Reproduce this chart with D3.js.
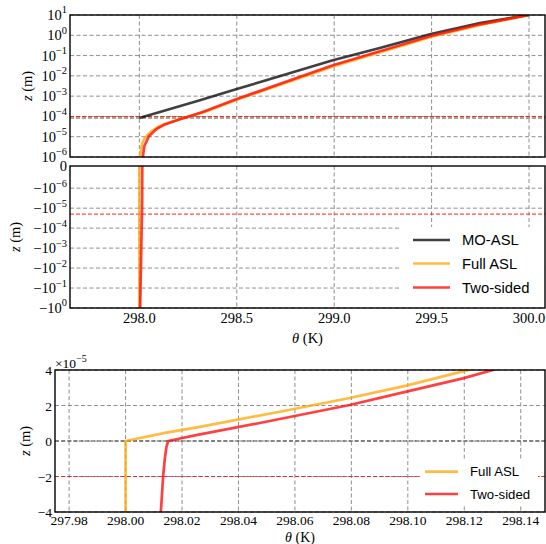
<!DOCTYPE html>
<html>
<head>
<meta charset="utf-8">
<script src="https://cdn.jsdelivr.net/npm/d3@7"></script>
<style>
  body { margin: 0; background: #fff; }
  svg text { fill: #000; }
</style>
</head>
<body>
<svg width="546" height="544" font-family="'Liberation Serif', 'Times New Roman', 'DejaVu Serif', serif"></svg>
<script>
// ---- data (z in m, theta in K) ----
const seriesNames = ["MO-ASL", "Full ASL", "Two-sided"];

const moAslZ     = [-1, 8.4e-5, 6.25e-4, 2.18e-3, 0.0585, 0.237, 1.15, 4.0, 10];
const moAslTheta = [298.0, 298.0, 298.311, 298.496, 298.993, 299.234, 299.496, 299.748, 300.0];

const fullAslZ     = [-1, 0, 1e-6, 4.6e-6, 8.0e-6, 1.65e-5, 2.42e-5, 3.12e-5, 3.92e-5, 7.24e-5, 1.66e-4, 7e-4, 0.032, 0.157, 0.88, 3.3, 10];
const fullAslTheta = [298.0, 298.0, 298.003, 298.014, 298.0263, 298.0546, 298.0794, 298.0995, 298.1195, 298.205, 298.335, 298.508, 299.005, 299.246, 299.505, 299.755, 300.0];

const twoSidedZ     = [-1, -0.1, -1e-3, -4e-5, -2e-5, -1e-5, -3.2e-6, 0, 1e-6, 3.3e-6, 1.03e-5, 2.03e-5, 2.78e-5, 3.53e-5, 4e-5, 7e-5, 1.66e-4, 7e-4, 0.0332, 0.163, 0.93, 3.48, 10];
const twoSidedTheta = [298.004, 298.006, 298.010, 298.0125, 298.0133, 298.0139, 298.0145, 298.0151, 298.018, 298.025, 298.048, 298.0794, 298.0995, 298.1195, 298.1301, 298.205, 298.325, 298.496, 298.993, 299.234, 299.496, 299.748, 300.0];

// dashed reference heights per panel
const refTopZ      = [1e-4, 1e-4, 8.4e-5];
const refTopSeries = ["Full ASL", "Two-sided", "MO-ASL"];
const refMidZ      = [-2e-5];
const refMidSeries = ["Two-sided"];
const refBotZ      = [0, -2e-5];
const refBotSeries = ["MO-ASL", "Two-sided"];

// ticks
const thetaTicks    = [298.0, 298.5, 299.0, 299.5, 300.0];
const topExponents  = [-6, -5, -4, -3, -2, -1, 0, 1];
const midExponents  = [-6, -5, -4, -3, -2, -1, 0];
const botThetaTicks = [297.98, 298.00, 298.02, 298.04, 298.06, 298.08, 298.10, 298.12, 298.14];
const botZTicks     = [-4, -2, 0, 2, 4];   // x 1e-5

const colors = {"MO-ASL": "#000000", "Full ASL": "#ffa500", "Two-sided": "#ff0000"};

const series = [
  {name: "MO-ASL", z: moAslZ, t: moAslTheta},
  {name: "Full ASL", z: fullAslZ, t: fullAslTheta},
  {name: "Two-sided", z: twoSidedZ, t: twoSidedTheta}
].map(s => ({name: s.name, pts: s.z.map((z, i) => ({z: z, t: s.t[i]}))}));

const svg = d3.select("svg");

// matplotlib style symlog, linthresh 1e-6
function symlog(z) {
  const L = 1e-6, a = 1 / (1 - 0.1);
  const m = Math.abs(z);
  return Math.sign(z) * (m <= L ? m / L * a : a + Math.log10(m / L));
}

const pTop = {x0: 70, x1: 545, y0: 15, y1: 157};
const pMid = {x0: 70, x1: 545, y0: 166, y1: 308};
const pBot = {x0: 55, x1: 545, y0: 370, y1: 512};

const xTop = d3.scaleLinear().domain([297.644, 300.082]).range([pTop.x0, pTop.x1]);
const yTop = d3.scaleLog().domain([1e-6, 10]).range([pTop.y1, pTop.y0]);
const yMidT = d3.scaleLinear().domain([symlog(-1), symlog(0)]).range([pMid.y1, pMid.y0]);
const yMid = z => yMidT(symlog(z));
const xBot = d3.scaleLinear().domain([297.975, 298.1486]).range([pBot.x0, pBot.x1]);
const yBot = d3.scaleLinear().domain([-4e-5, 4e-5]).range([pBot.y1, pBot.y0]);

const defs = svg.append("defs");
function clip(id, p) {
  defs.append("clipPath").attr("id", id).append("rect")
    .attr("x", p.x0).attr("y", p.y0).attr("width", p.x1 - p.x0).attr("height", p.y1 - p.y0);
}
clip("cTop", pTop); clip("cMid", pMid); clip("cBot", pBot);

function grid(p, xs, ys, xScale, yScale) {
  const g = svg.append("g").attr("stroke", "#8f8f8f").attr("stroke-width", 1)
    .attr("stroke-dasharray", "4,2.5").attr("fill", "none");
  xs.forEach(v => g.append("line").attr("x1", xScale(v)).attr("x2", xScale(v))
    .attr("y1", p.y0).attr("y2", p.y1));
  ys.forEach(v => g.append("line").attr("y1", yScale(v)).attr("y2", yScale(v))
    .attr("x1", p.x0).attr("x2", p.x1));
}

grid(pTop, thetaTicks, topExponents.map(e => Math.pow(10, e)), xTop, yTop);
grid(pMid, thetaTicks, midExponents.map(e => -Math.pow(10, e)), xTop, yMid);
grid(pBot, botThetaTicks, botZTicks.map(v => v * 1e-5), xBot, yBot);

function refLines(p, zs, names, yScale) {
  const g = svg.append("g").attr("fill", "none").attr("stroke-dasharray", "4,2");
  zs.forEach((z, i) => g.append("line")
    .attr("x1", p.x0).attr("x2", p.x1).attr("y1", yScale(z)).attr("y2", yScale(z))
    .attr("stroke", colors[names[i]]).attr("stroke-opacity", 0.7).attr("stroke-width", 1.1));
}

function curves(clipId, list, xScale, yScale, filter) {
  const g = svg.append("g").attr("clip-path", "url(#" + clipId + ")");
  list.forEach(s => {
    const line = d3.line().x(d => xScale(d.t)).y(d => yScale(d.z));
    g.append("path").datum(filter(s.pts)).attr("d", line)
      .attr("fill", "none").attr("stroke", colors[s.name])
      .attr("stroke-opacity", 0.75).attr("stroke-width", 2.7)
      .attr("stroke-linejoin", "round");
  });
}

// top panel (log z > 0); z<=0 pushed far below the axis
refLines(pTop, refTopZ, refTopSeries, yTop);
curves("cTop", series, xTop, yTop, pts => pts.filter(d => d.z >= 0).map(d => ({t: d.t, z: d.z > 0 ? d.z : 1e-9})));
// middle panel (symlog, z <= 0)
refLines(pMid, refMidZ, refMidSeries, yMid);
curves("cMid", series, xTop, yMid, pts => pts.filter(d => d.z <= 1e-6));
// bottom panel (linear zoom)
refLines(pBot, refBotZ, refBotSeries, yBot);
curves("cBot", series.slice(1), xBot, yBot, pts => pts);

// frames
[pTop, pMid, pBot].forEach(p => svg.append("rect")
  .attr("x", p.x0).attr("y", p.y0).attr("width", p.x1 - p.x0).attr("height", p.y1 - p.y0)
  .attr("fill", "none").attr("stroke", "#000").attr("stroke-width", 1.4));

// tick labels
function powLabel(x, y, base, exp, size) {
  const t = svg.append("text").attr("x", x).attr("y", y).attr("text-anchor", "end")
    .style("font-size", size + "px").text(base);
  t.append("tspan").attr("dy", -size * 0.45).style("font-size", (size * 0.72) + "px").text(exp);
}
topExponents.forEach(e => powLabel(67, yTop(Math.pow(10, e)) + 5, "10", e < 0 ? "\u2212" + (-e) : String(e), 14.5));
midExponents.forEach(e => powLabel(67, yMid(-Math.pow(10, e)) + 5, "\u221210", e < 0 ? "\u2212" + (-e) : String(e), 14.5));
svg.append("text").attr("x", 67).attr("y", yMid(0) + 5).attr("text-anchor", "end")
  .style("font-size", "14.5px").text("0");

thetaTicks.forEach(v => svg.append("text").attr("x", xTop(v)).attr("y", pMid.y1 + 15)
  .attr("text-anchor", "middle").style("font-size", "14.5px").text(v.toFixed(1)));

botThetaTicks.forEach(v => svg.append("text").attr("x", xBot(v)).attr("y", pBot.y1 + 12.5)
  .attr("text-anchor", "middle").style("font-size", "13.5px").text(v.toFixed(2)));
botZTicks.forEach(v => svg.append("text").attr("x", pBot.x0 - 3).attr("y", yBot(v * 1e-5) + 5)
  .attr("text-anchor", "end").style("font-size", "13.5px")
  .text(v < 0 ? "\u2212" + (-v) : String(v)));

const mult = svg.append("text").attr("x", pBot.x0).attr("y", 368).style("font-size", "13.5px").text("\u00d710");
mult.append("tspan").attr("dy", -6).style("font-size", "10px").text("\u22125");

// axis labels
function zLabel(x, y) {
  const t = svg.append("text").attr("transform", "translate(" + x + "," + y + ") rotate(-90)")
    .attr("text-anchor", "middle").attr("dy", "0.35em").style("font-size", "14.5px");
  t.append("tspan").style("font-style", "italic").text("z");
  t.append("tspan").text(" (m)");
}
zLabel(27, (pTop.y0 + pTop.y1) / 2);
zLabel(15, (pMid.y0 + pMid.y1) / 2);
zLabel(25, (pBot.y0 + pBot.y1) / 2);

function thetaLabel(x, y, size) {
  const t = svg.append("text").attr("x", x).attr("y", y).attr("text-anchor", "middle").style("font-size", size + "px");
  t.append("tspan").style("font-style", "italic").text("\u03b8");
  t.append("tspan").text(" (K)");
}
thetaLabel((pTop.x0 + pTop.x1) / 2, 343, 14.5);
thetaLabel((pBot.x0 + pBot.x1) / 2, 541.5, 14);

// legends
function legend(box, names, x0, x1, tx, ys, size) {
  const g = svg.append("g").attr("font-family", "'Liberation Sans', Arial, sans-serif");
  g.append("rect").attr("x", box[0]).attr("y", box[1]).attr("width", box[2]).attr("height", box[3]).attr("fill", "#fff");
  names.forEach((n, i) => {
    g.append("line").attr("x1", x0).attr("x2", x1).attr("y1", ys[i]).attr("y2", ys[i])
      .attr("stroke", colors[n]).attr("stroke-opacity", 0.75).attr("stroke-width", 2.7);
    g.append("text").attr("x", tx).attr("y", ys[i]).attr("dy", "0.36em")
      .style("font-size", size + "px").text(n);
  });
}
legend([400, 227, 143, 80], seriesNames, 413, 450, 462, [240, 263.5, 287.5], 14.8);
legend([420, 460, 118, 45], seriesNames.slice(1), 425, 458, 470, [471.7, 494], 13.2);
</script>
</body>
</html>
